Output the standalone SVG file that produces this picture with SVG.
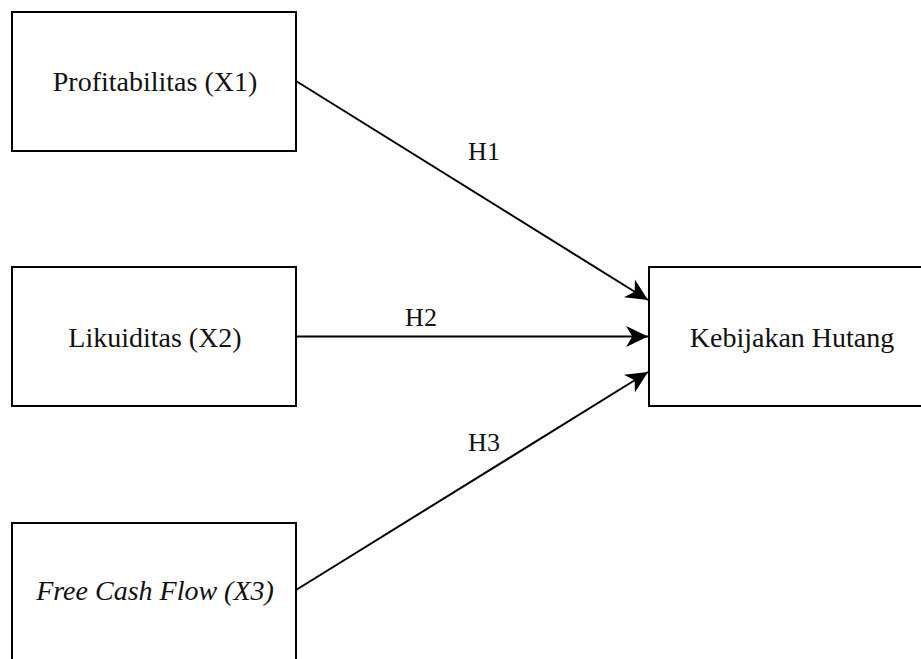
<svg xmlns="http://www.w3.org/2000/svg" width="921" height="659" viewBox="0 0 921 659">
<style>
.box{fill:#fff;stroke:#000;stroke-width:2}
.lbl{font-family:"Liberation Serif","Times New Roman",serif;font-size:28px;fill:#111;text-anchor:middle}
.h{font-family:"Liberation Serif","Times New Roman",serif;font-size:26px;fill:#111;text-anchor:middle}
.edge{stroke:#000;stroke-width:2;fill:none}
</style>
<defs>
<marker id="arr" markerUnits="userSpaceOnUse" markerWidth="24" markerHeight="24" viewBox="-22 -11 23 22" refX="0" refY="0" orient="auto">
<path d="M0,0 L-21,-10 L-15,0 L-21,10 Z" fill="#000"/>
</marker>
</defs>
<rect width="921" height="659" fill="#fff"/>
<g id="connectors">
<line class="edge" x1="296" y1="81" x2="648" y2="300" marker-end="url(#arr)"/>
<line class="edge" x1="296" y1="336.5" x2="648" y2="336.5" marker-end="url(#arr)"/>
<line class="edge" x1="296" y1="590" x2="648" y2="372" marker-end="url(#arr)"/>
<text class="h" x="484" y="160">H1</text>
<text class="h" x="421" y="326">H2</text>
<text class="h" x="484" y="451">H3</text>
</g>
<g id="n1">
<rect class="box" x="12" y="12" width="284" height="139"/>
<text class="lbl" x="155" y="91">Profitabilitas (X1)</text>
</g>
<g id="n2">
<rect class="box" x="12" y="267" width="284" height="139"/>
<text class="lbl" x="155" y="346.5">Likuiditas (X2)</text>
</g>
<g id="n3">
<rect class="box" x="12" y="523" width="284" height="139"/>
<text class="lbl" x="155" y="600" font-style="italic">Free Cash Flow (X3)</text>
</g>
<g id="n4">
<rect class="box" x="649" y="267" width="285" height="139"/>
<text class="lbl" x="792" y="346.5">Kebijakan Hutang</text>
</g>
</svg>
